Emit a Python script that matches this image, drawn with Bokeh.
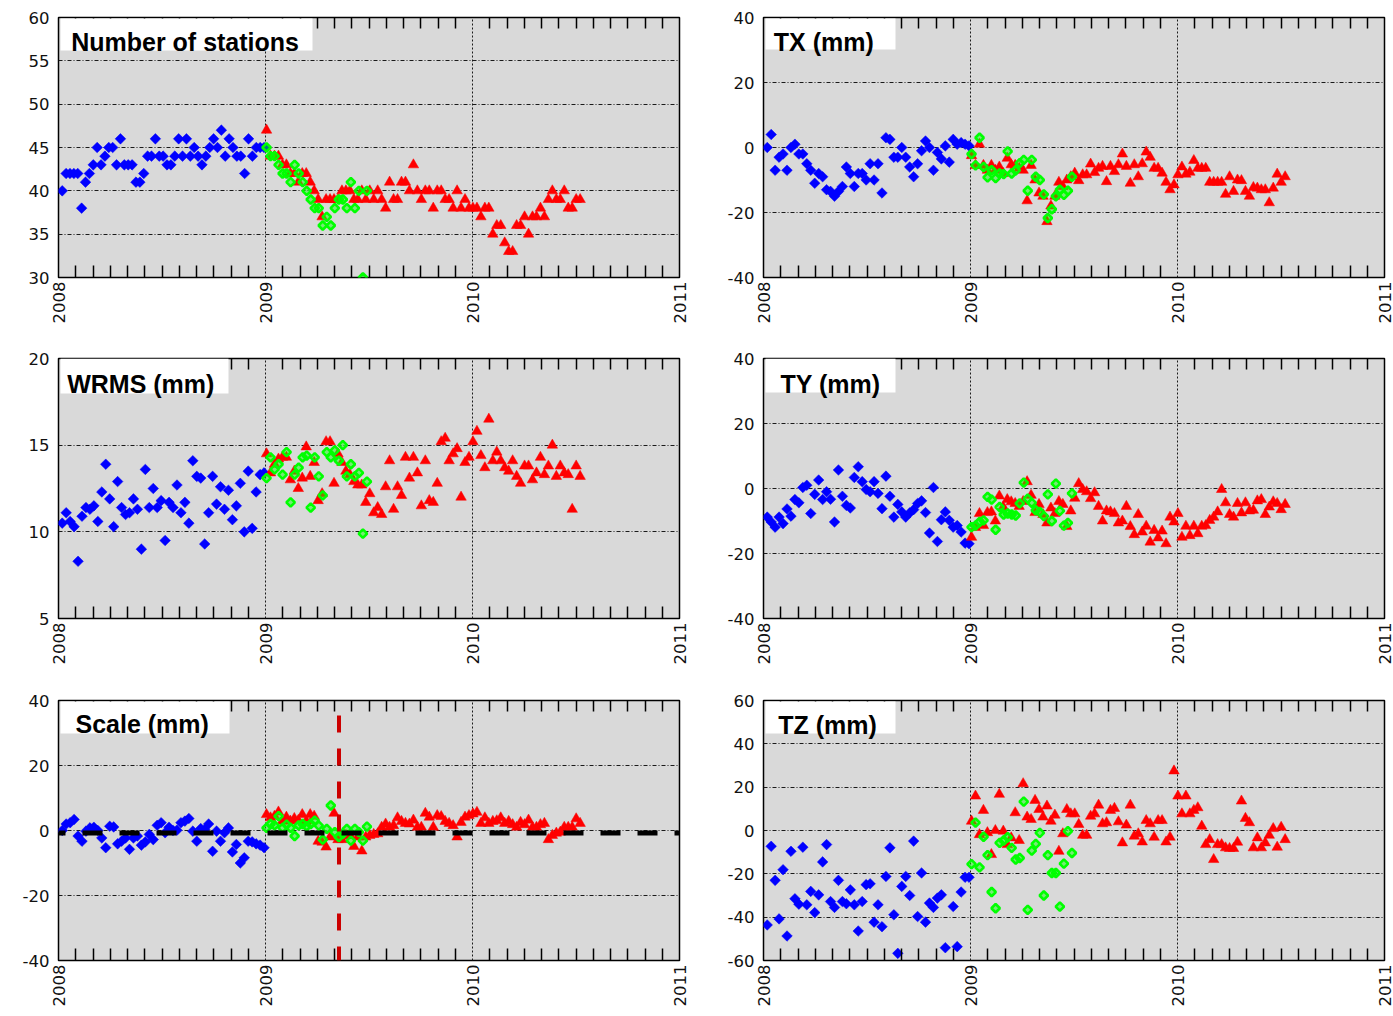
import numpy as np
from bokeh.plotting import figure
from bokeh.layouts import gridplot
from bokeh.models import (FixedTicker, LinearAxis, CustomJSTickFormatter,
                          BoxAnnotation, Label, Span)
from bokeh.embed import file_html
from bokeh.resources import INLINE

nan = float("nan")

# ---------------- data (weekly solutions) ----------------
BLUE_FIRST, BLUE_LAST = 2008.018, 2008.993
RED_FIRST, RED_LAST = 2009.005, 2010.52
GREEN_FIRST, GREEN_LAST = 2009.005, 2009.49

YEAR_TICKS = [2008, 2009, 2010, 2011]
YEAR_LABELS = ["2008", "2009", "2010", "2011"]

stations_blue = [40, 42, 42, 42, 42, 38, 41, 42, 43, 45,
                 43, 44, 45, 45, 43, 46, 43, 43, 43, 41,
                 41, 42, 44, 44, 46, 44, 44, 43, 43, 44,
                 46, 44, 46, 44, 45, 44, 43, 44, 45, 46,
                 45, 47, 44, 46, 45, 44, 44, 42, 46, 44,
                 45, 45, 45]
stations_red = [47, 44, 44, 44, 43, 43, 42, 42, 41, 42,
                42, 41, 40, 39, 37, 39, 39, 39, 39, 40,
                40, 40, 39, 39, 40, 39, 40, 39, 40, 39,
                38, 41, 39, 39, 41, 41, 40, 43, 40, 39,
                40, 40, 38, 40, 40, 39, 39, 38, 40, 38,
                39, 38, 38, 38, 37, 38, 38, 35, 36, 36,
                34, 33, 33, 36, 36, 37, 35, 37, 37, 38,
                37, 39, 40, 39, 39, 40, 38, 38, 39, 39]
stations_green = [45, 44, 44, 43, 42, 42, 41, 43, 42, 41, 40, 39, 38,
                  38, 36, 37, 36, 38, 39, 39, 38, 41, 38, 40, 30, 40]

tx_blue = [0, 4, -7, -3, -2, -7, 0, 1, -2, -2,
           -5, -7, -11, -8, -9, -13, -13.5, -15, -13.5, -12,
           -6, -8, -12, -8, -8, -10, -5, -10, -5, -14,
           3, 2.5, -3, -3, 0, -3, -6, -9, -5, -1,
           2, 0, -7, -1.5, -3.5, 0.5, -4.5, 2.5, 1, 1.5,
           1, 0.5]
tx_red = [-2.5, -5.5, 1, -5.5, -7, -5.5, -7, -6, -8, -3.3,
          -5.3, -5.5, -6.4, -7, -16.4, -5.5, -10, -14, -15, -22.8,
          -18, -15, -10.7, -12, -10, -9, -7.9, -10.2, -8.4, -8.4,
          -5.1, -7.7, -6.4, -5.8, -10.5, -5.8, -7.4, -5.3, -2, -5.8,
          -11, -5.3, -9, -5, -1.4, -3, -6.4, -6.4, -7.9, -10.7,
          -13, -11.5, -8.4, -6, -8.2, -7.6, -4, -6.4, -6.4, -6.4,
          -10.7, -10.7, -10.7, -10.7, -14.4, -9, -13.5, -10, -10.2, -13.5,
          -15, -12.3, -12.5, -13, -13, -17, -12.5, -8.2, -10.7, -9]
tx_green = [-2, -5.5, 3, -6, -9.2, -7, -9.4, -8, -8.2, -1.2, -8, -7, -4.8,
            -3.8, -13.3, -3.8, -9, -10, -14.4, -21.7, -19, -15, -13, -14.6, -13.3, -9]

wrms_blue = [10.5, 11.1, 10.6, 10.3, 8.3, 10.9, 11.4, 11.3, 11.5, 10.6,
             12.3, 13.9, 11.9, 10.3, 12.9, 11.4, 11.0, 11.1, 11.9, 11.3,
             9.0, 13.6, 11.4, 12.5, 11.4, 11.8, 9.5, 11.7, 11.4, 12.7,
             11.1, 11.7, 10.5, 14.1, 13.2, 13.1, 9.3, 11.1, 13.2, 11.6,
             12.6, 11.3, 12.4, 10.7, 11.5, 12.8, 10.0, 13.5, 10.2, 12.3,
             13.3, 13.4]
wrms_red = [14.5, 13.4, 13.9, 14.2, 14.3, 14.3, 13.0, 13.5, 12.5, 13.1,
            14.9, 13.2, 14.0, 11.8, 12.2, 15.2, 15.2, 12.8, 14.5, 14.0,
            13.5, 13.3, 12.9, 12.7, 12.7, 11.7, 12.2, 11.1, 11.4, 11.0,
            12.6, 14.1, 11.3, 12.6, 12.1, 14.3, 13.1, 14.3, 13.4, 11.5,
            14.1, 11.8, 11.7, 12.8, 15.2, 15.4, 14.1, 14.5, 14.8, 12.0,
            14.0, 14.3, 15.2, 15.8, 14.4, 13.7, 16.5, 14.1, 14.6, 14.1,
            13.7, 13.5, 14.1, 13.2, 12.8, 13.8, 13.8, 13.0, 13.4, 14.3,
            13.3, 13.8, 15.0, 13.2, 13.8, 13.4, 13.3, 11.3, 13.8, 13.2]
wrms_green = [13.1, 14.3, 13.6, 13.9, 13.3, 14.6, 11.7, 13.3, 13.7, 14.3, 14.4, 11.4, 14.3,
              13.2, 12.1, 14.6, 14.3, 14.7, 14.1, 15.0, 13.2, 13.9, 13.2, 13.4, 9.9, 12.9]

ty_blue = [-8.8, -10.3, -11.9, -8.8, -10.8, -6.3, -8.5, -3.4, -4.4, 0.3,
           1, -7.7, -1.8, 2.6, -3.4, -1, -3.3, -10.3, 5.7, -2.4,
           -5.2, -6, 3.4, 6.7, 2.1, -0.3, -1, 2.1, -1.5, -6.2,
           3.8, -2.4, -8.8, -4.9, -7.2, -8.8, -7.5, -6.5, -4.6, -3.8,
           -7.4, -13.7, 0.3, -16.3, -9.6, -7.2, -9.8, -11.9, -11.4, -13.4,
           -16.8, -17]
ty_red = [-15, -12, -7.7, -11.4, -7.4, -7.2, -10, -2.3, -5.7, -3.4,
          -4.1, -4.6, -5.5, -4, 2.1, -2.1, -7.4, -4.9, -8, -10.6,
          -6, -7.7, -4, -4.9, -11.7, -6.9, -3, 1.5, -0.3, -1,
          -3.1, -1.3, -5.5, -10, -6.9, -7.2, -7.7, -10.6, -10, -5.5,
          -11.7, -14.2, -8, -13.4, -11.6, -16.5, -12.9, -15.2, -13.1, -17,
          -8.8, -10.3, -7.7, -15, -11.6, -14.5, -11.6, -13.9, -11.6, -11.4,
          -9.8, -8.8, -7.2, -0.3, -4.4, -8, -8.8, -4.6, -7.5, -4.4,
          -6.9, -6.7, -3.8, -3.4, -8, -5.7, -4.1, -4.6, -6.5, -4.9]
ty_green = [-11.9, -11.4, -10.3, -9.8, -2.6, -3.4, -12.7, -5.7, -8, -7.7, -8, -8.3, -4.6,
            1.8, -3.1, -4.4, -6.7, -7.2, -8.5, -1.8, -10, 1.5, -6.9, -11.4, -10.6, -1.5]

scale_blue = [0, 2, 2.4, 3.4, -1.7, -3.3, -0.2, 0.8, 1, 0,
              -2.3, -5.3, 1.3, 1.1, -4.1, -3.3, -2.3, -5.8, -2.3, -1.7,
              -4.5, -3.5, -1.2, -2.8, 1.6, 2.4, -0.7, 1, 0, 0.1,
              2.4, 2.9, 3.7, -0.2, -3.3, 0.6, 0.3, 2, -6.4, -0.2,
              -3.3, -0.7, 0.8, -6.6, -4.3, -10, -8.4, -3.3, -3.5, -4.1,
              -4.5, -5.3]
scale_red = [4.9, 3.9, 4.4, 5.7, 2.9, 4.1, 2.9, 3.7, 3.1, 4.9,
             2.9, 4.9, 4.4, -3.3, -3.6, -5.1, -2, 5.3, -2.8, -2.8,
             -1.5, -1.5, -4.9, -2, -6.3, -2, -1.5, -1.2, -1, 1,
             2, 1, 1.5, 3.9, 2.8, 2.2, 2, 3.2, 1, 1,
             5.3, 4.1, 1, 4.6, 4.3, 2.8, 2.2, 1.5, -2, 2.5,
             4.1, 4.6, 5.1, 5.6, 2.2, 3.9, 2.2, 2.8, 3.0, 3.9,
             2.2, 2.8, 1.8, 1, 2.5, 1.8, 3.2, 1, 1, 1.8,
             2.2, -2.8, -1.5, -0.8, -0.5, 1, 1, 1, 3.6, 2.2]
scale_green = [0.8, 2, 1.6, 4.4, 0.8, 1.8, 0.8, -1.7, 1.6, 2, 1.3, 2, 3,
               1.5, -2.8, 0.5, 7.7, -0.5, -2, -1, 0.5, -3.1, 0.5, -0.5, -3.1, 1.2]
scale_ref_level = -0.8
scale_marker_epoch = 2009.355

tz_blue = [-43.6, -7.3, -23, -40.8, -18.1, -48.7, -9.6, -31.5, -34, -7.7,
           -34.3, -28.1, -37.9, -29.7, -14.5, -6.5, -32.8, -35.5, -23, -32.8,
           -33.8, -27.4, -34.3, -46.4, -32.8, -25, -24.6, -42.3, -34.3, -44.4,
           -21.2, -8, -38.9, -56.7, -25.8, -21.2, -30, -4.9, -39.7, -19.6,
           -42.3, -33.5, -35.5, -31.2, -29.7, -54.1, nan, -35.1, -53.6, -28.4,
           -21.6, -21.6]
tz_red = [4.3, 15.9, -1.9, 9.3, -1, -11.1, 0, 16.7, -0.3, -6.5,
          -3.4, 8.2, -4.6, 21.6, 6.2, 5.1, 13.9, 9.7, 6.2, 11.3,
          4.3, 7.1, -9.6, -1.5, 9.7, 7.7, 7.7, 2.8, -2.2, -2.2,
          6.6, 7.7, 11.7, 3.1, 3.6, 9.3, 10.2, 4, -5.7, 2.5,
          11.7, -2.6, -1.5, -5.3, 4.6, 3.1, -3.1, 4.6, 4.6, -5.3,
          -3.1, 27.5, 15.9, 7.7, 15.9, 7.7, 9.3, 10.5, 2, -6.5,
          -4.2, -13.4, -6.5, -6.5, -8, -8.3, -8.3, -5.4, 13.6, 5.6,
          3.6, -8, -3.4, -8, -5.7, -2.2, 0.9, -7.7, 1.5, -4.2]
tz_green = [-15.5, 3.6, -17, -2.9, -11.4, -28.4, -35.9, -5.7, -4.6, -3.1, -8, -13.4, -12.7,
            13.3, -36.6, -9.3, -6.2, -1.1, -30, -11.4, -19.6, -19.6, -35.1, -15.3, -0.3, -10.4]

# ---------------- layout / style ----------------
FRAME_W, FRAME_H = 621, 260
X0, X1 = 2008, 2011
MONTH_TICKS = [X0 + k / 12 for k in range(1, 36) if k % 12 != 0]
BG = "#d9d9d9"
TICK_FONT = "DejaVu Sans"
TITLE_FONT = "Liberation Sans"


def epochs(first, last, n):
    return np.linspace(first, last, n)


def px_to_data(dx, dy, yr):
    x = X0 + dx / FRAME_W * (X1 - X0)
    y = yr[1] - dy / FRAME_H * (yr[1] - yr[0])
    return x, y


def make_panel(title, yr, yticks, blue, red, green, box_px, text_px, borders):
    left, right, top, bottom = borders
    p = figure(frame_width=FRAME_W, frame_height=FRAME_H,
               x_range=(X0, X1), y_range=yr,
               output_backend="svg", toolbar_location=None,
               min_border_left=left, min_border_right=right,
               min_border_top=top, min_border_bottom=bottom,
               background_fill_color=BG, border_fill_color="white",
               outline_line_color="black", outline_line_width=1.5)

    xa = p.xaxis[0]
    xa.ticker = FixedTicker(ticks=YEAR_TICKS, minor_ticks=MONTH_TICKS)
    xa.major_label_overrides = {t: s for t, s in zip(YEAR_TICKS, YEAR_LABELS)}
    xa.major_label_orientation = np.pi / 2
    xa.major_tick_in = 0
    xa.major_tick_out = 0
    xa.minor_tick_in = 12
    xa.minor_tick_out = 0
    xa.minor_tick_line_color = "black"
    xa.minor_tick_line_width = 1.5
    xa.axis_line_color = None
    xa.major_label_standoff = 4
    xa.major_label_text_font = TICK_FONT
    xa.major_label_text_font_size = "16.5px"
    xa.major_label_text_color = "#111111"

    top_axis = LinearAxis(ticker=FixedTicker(ticks=YEAR_TICKS, minor_ticks=MONTH_TICKS),
                          formatter=CustomJSTickFormatter(code="return ''"),
                          major_tick_in=0, major_tick_out=0,
                          minor_tick_in=11, minor_tick_out=0,
                          minor_tick_line_color="black", minor_tick_line_width=1.5,
                          axis_line_color=None, major_label_standoff=0,
                          major_label_text_font_size="1px")
    p.add_layout(top_axis, "above")

    ya = p.yaxis[0]
    ya.ticker = FixedTicker(ticks=yticks)
    ya.major_label_overrides = {t: str(t) for t in yticks}
    ya.major_tick_in = 0
    ya.major_tick_out = 0
    ya.axis_line_color = None
    ya.major_label_standoff = 9
    ya.major_label_text_font = TICK_FONT
    ya.major_label_text_font_size = "16.5px"
    ya.major_label_text_color = "#111111"

    p.xgrid.grid_line_color = "#1a1a1a"
    p.xgrid.grid_line_dash = "2 2"
    p.xgrid.grid_line_width = 1
    p.ygrid.grid_line_color = "#1a1a1a"
    p.ygrid.grid_line_dash = "4 2 1 2"
    p.ygrid.grid_line_width = 1

    p.scatter(epochs(BLUE_FIRST, BLUE_LAST, len(blue)), blue, marker="square",
              angle=np.pi / 4, size=7.5, fill_color="#0000ff", line_color="#0000ff",
              line_width=0.5)
    p.scatter(epochs(RED_FIRST, RED_LAST, len(red)), red, marker="triangle",
              size=10.5, fill_color="#ff0000", line_color="#ff0000", line_width=0.5)
    p.scatter(epochs(GREEN_FIRST, GREEN_LAST, len(green)), green, marker="square",
              angle=np.pi / 4, size=6, fill_color="#00ff00", fill_alpha=0.45,
              line_color="#00ff00", line_width=2.6)

    bx0, by0 = px_to_data(box_px[0], box_px[2], yr)
    bx1, by1 = px_to_data(box_px[1], box_px[3], yr)
    p.add_layout(BoxAnnotation(left=bx0, right=bx1, top=by0, bottom=by1,
                               fill_color="white", fill_alpha=1.0, line_color=None))
    tx, ty = px_to_data(text_px[0], text_px[1], yr)
    p.add_layout(Label(x=tx, y=ty, text=title, text_font=TITLE_FONT,
                       text_font_style="bold", text_font_size="25px",
                       text_color="black", text_align="left",
                       text_baseline="alphabetic"))
    return p


LEFT_B = (58, 26)
RIGHT_B = (58, 9)

p1 = make_panel("Number of stations", (30, 60), [30, 35, 40, 45, 50, 55, 60],
                stations_blue, stations_red, stations_green,
                (2, 254, 1, 33), (12.7, 24.7), LEFT_B + (17, 64))
p2 = make_panel("TX (mm)", (-40, 40), [-40, -20, 0, 20, 40],
                tx_blue, tx_red, tx_green,
                (2, 132, 1, 32), (10.3, 24.7), RIGHT_B + (17, 64))
p3 = make_panel("WRMS (mm)", (5, 20), [5, 10, 15, 20],
                wrms_blue, wrms_red, wrms_green,
                (2, 170, 0, 35), (8.7, 25), LEFT_B + (17, 64))
p4 = make_panel("TY (mm)", (-40, 40), [-40, -20, 0, 20, 40],
                ty_blue, ty_red, ty_green,
                (2, 132, 0, 34), (17, 25), RIGHT_B + (17, 64))
p5 = make_panel("Scale (mm)", (-40, 40), [-40, -20, 0, 20, 40],
                scale_blue, scale_red, scale_green,
                (2, 171, 1, 33), (17, 23.6), LEFT_B + (18, 56))
p6 = make_panel("TZ (mm)", (-60, 60), [-60, -40, -20, 0, 20, 40, 60],
                tz_blue, tz_red, tz_green,
                (2, 132, 1, 33), (14.7, 24.3), RIGHT_B + (18, 56))

p5.add_layout(Span(location=scale_ref_level, dimension="width", line_color="black",
                   line_width=5, line_dash="20 17", line_dash_offset=13))
p5.add_layout(Span(location=scale_marker_epoch, dimension="height", line_color="#cc0000",
                   line_width=4, line_dash="17 16", line_dash_offset=18))

grid = gridplot([[p1, p2], [p3, p4], [p5, p6]], toolbar_location=None)

open("out.html", "w").write(file_html(grid, INLINE))
